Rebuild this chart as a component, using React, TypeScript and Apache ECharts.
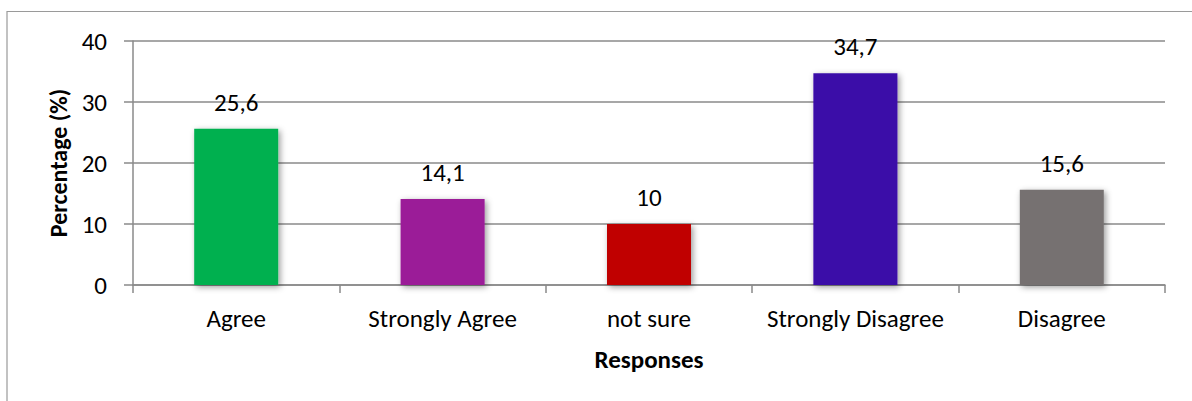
import React, { useEffect, useRef } from "react";
import * as echarts from "echarts";

const categories = ["Agree", "Strongly Agree", "not sure", "Strongly Disagree", "Disagree"];
const percentages = [25.6, 14.1, 10, 34.7, 15.6];
const barColors = ["#00B050", "#9B1A98", "#C00000", "#3A0BA8", "#767171"];
const yTicks = { min: 0, max: 40, interval: 10 };

const FONT = "Carlito, Calibri, Lato, sans-serif";

export default function App() {
  const ref = useRef<HTMLDivElement>(null);

  useEffect(() => {
    if (!ref.current) return;
    const chart = echarts.init(ref.current, undefined, { renderer: "svg" });
    chart.setOption({
      animation: false,
      backgroundColor: "#ffffff",
      textStyle: { fontFamily: FONT },
      graphic: [
        {
          type: "rect",
          shape: { x: 7, y: 11.5, width: 1400, height: 600 },
          style: { fill: "none", stroke: "#9a9a9a", lineWidth: 1.2 },
          silent: true,
        },
      ],
      grid: { left: 133, right: 27, top: 41, bottom: 116, containLabel: false },
      xAxis: {
        type: "category",
        data: categories,
        name: "Responses",
        nameLocation: "middle",
        nameGap: 62,
        nameTextStyle: { fontFamily: FONT, fontSize: 25, fontWeight: "bold", color: "#000" },
        axisLine: { lineStyle: { color: "#8a8a8a", width: 1.5 } },
        axisTick: { show: true, length: 8, lineStyle: { color: "#8a8a8a", width: 1.5 } },
        axisLabel: {
          interval: 0,
          hideOverlap: false,
          margin: 21,
          fontFamily: FONT,
          fontSize: 25,
          color: "#000",
        },
      },
      yAxis: {
        type: "value",
        min: yTicks.min,
        max: yTicks.max,
        interval: yTicks.interval,
        name: "Percentage (%)",
        nameLocation: "middle",
        nameGap: 60,
        nameTextStyle: { fontFamily: FONT, fontSize: 24, fontWeight: "bold", color: "#000" },
        axisLine: { show: true, lineStyle: { color: "#8a8a8a", width: 1.5 } },
        axisTick: { show: true, length: 9, lineStyle: { color: "#8a8a8a", width: 1.5 } },
        axisLabel: { margin: 26, fontFamily: FONT, fontSize: 25, color: "#000" },
        splitLine: { show: true, lineStyle: { color: "#8a8a8a", width: 1.5 } },
      },
      series: [
        {
          type: "bar",
          barWidth: 84,
          data: percentages.map((v, i) => ({
            value: v,
            itemStyle: {
              color: barColors[i],
              shadowColor: "rgba(0,0,0,0.4)",
              shadowBlur: 6,
              shadowOffsetX: 2,
              shadowOffsetY: 2,
            },
          })),
          label: {
            show: true,
            position: "top",
            distance: 14,
            fontFamily: FONT,
            fontSize: 25,
            color: "#000",
            formatter: (p: any) => String(p.value).replace(".", ","),
          },
        },
      ],
    });
    return () => chart.dispose();
  }, []);

  return (
    <div
      ref={ref}
      style={{ position: "fixed", left: 0, top: 0, width: 1192, height: 401 }}
    />
  );
}
